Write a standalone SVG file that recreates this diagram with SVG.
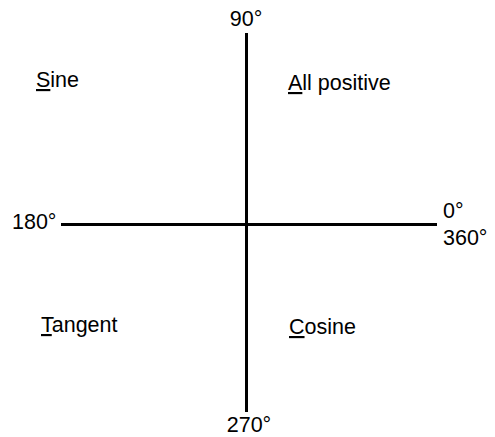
<svg xmlns="http://www.w3.org/2000/svg" width="495" height="437" viewBox="0 0 495 437">
<style>
text{font-family:"Liberation Sans",Arial,sans-serif;font-size:21.5px;fill:#000}
.u{text-decoration:underline}
.axis{stroke:#000;stroke-width:3;fill:none}
</style>
<rect width="495" height="437" fill="#fff"/>
<g id="connectors">
<line class="axis" x1="246.5" y1="33" x2="246.5" y2="412"/>
<line class="axis" x1="61" y1="224.5" x2="437" y2="224.5"/>
</g>
<g id="label-90"><text x="246" y="26" text-anchor="middle">90°</text></g>
<g id="label-180"><text x="12" y="228.5">180°</text></g>
<g id="label-0"><text x="443" y="218">0°</text><text x="443" y="245">360°</text></g>
<g id="label-270"><text x="249" y="432" text-anchor="middle">270°</text></g>
<g id="sine"><text x="36" y="87"><tspan class="u">S</tspan>ine</text></g>
<g id="all"><text x="288" y="90"><tspan class="u">A</tspan>ll positive</text></g>
<g id="tangent"><text x="41" y="332"><tspan class="u">T</tspan>angent</text></g>
<g id="cosine"><text x="289" y="334"><tspan class="u">C</tspan>osine</text></g>
</svg>
